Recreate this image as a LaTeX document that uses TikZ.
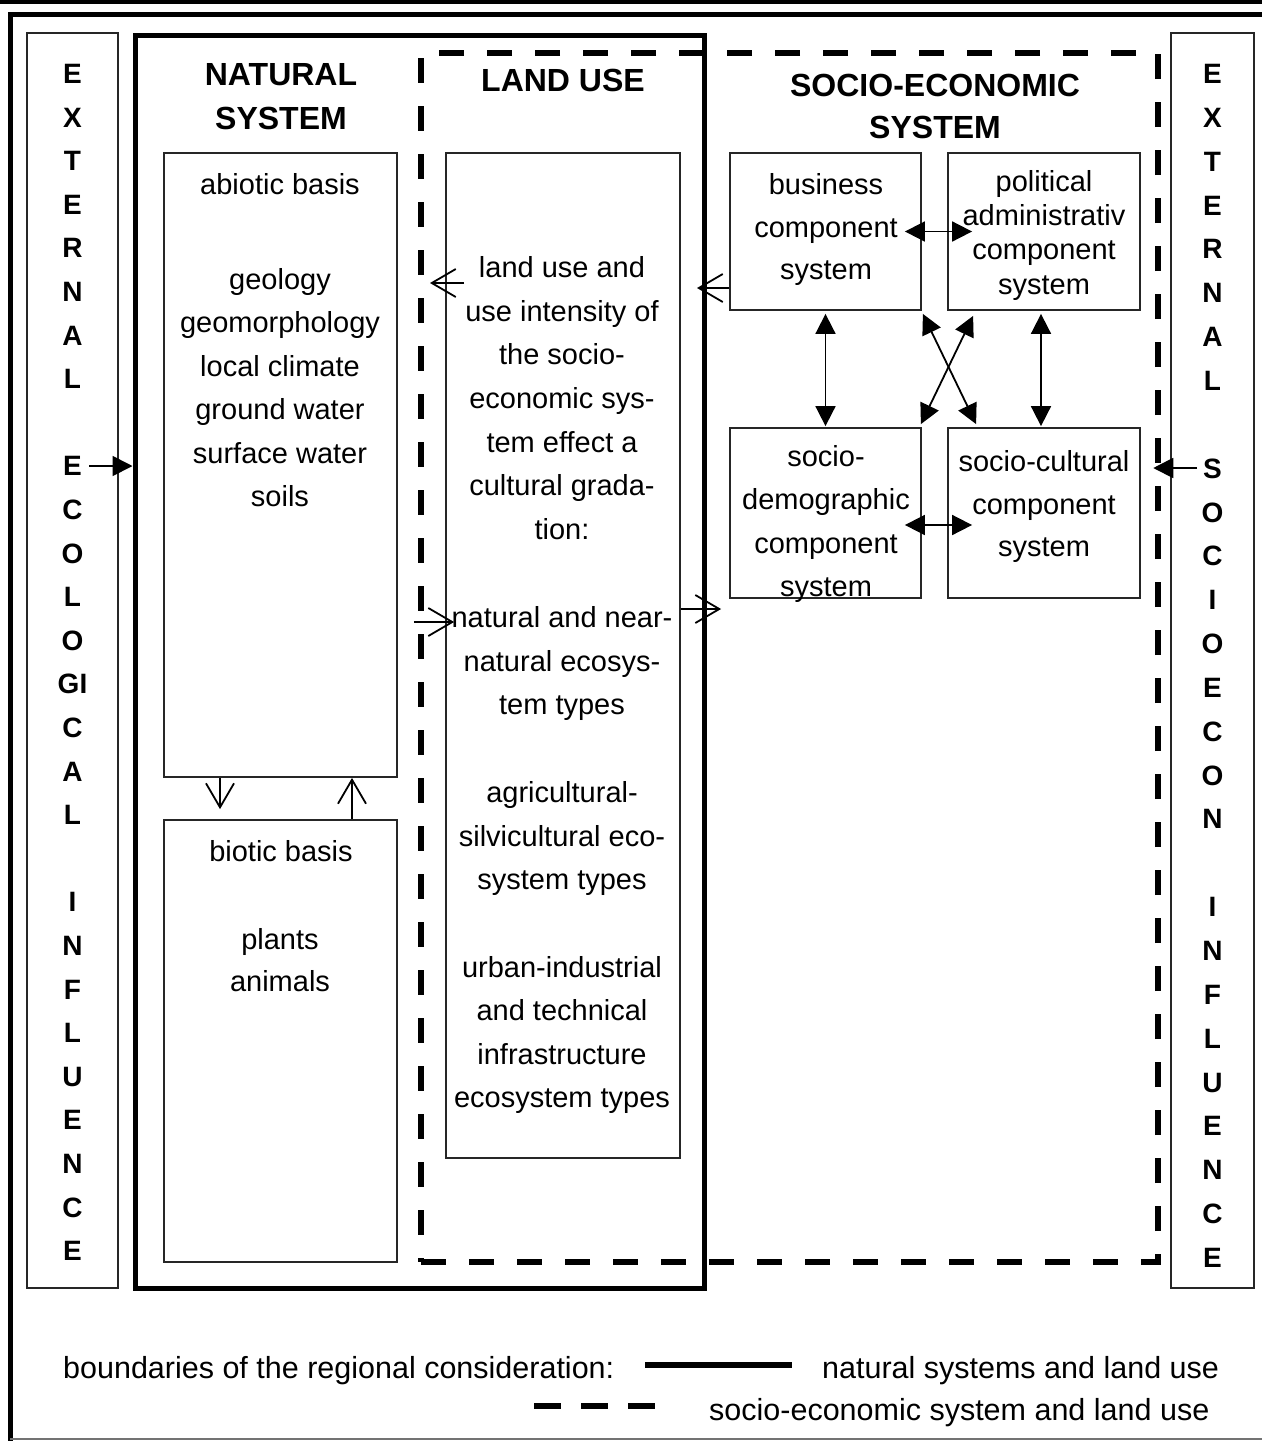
\documentclass[tikz,border=0pt]{standalone}
\usepackage{fontspec}
\setmainfont{Liberation Sans}
\usetikzlibrary{arrows.meta,calc}
\newcommand\mystrut{\rule[-7pt]{0pt}{35pt}}
\begin{document}
\begin{tikzpicture}[x=1pt,y=-1pt,
  box/.style={draw=black!85, line width=1.8pt, inner sep=0pt},
  txt/.style={inner sep=0pt, align=center, font=\fontsize{29}{43.5}\selectfont},
  col/.style={inner sep=0pt, align=center},
  ttl/.style={inner sep=0pt, align=center, font=\fontsize{32}{44}\selectfont\bfseries},
  legend/.style={inner sep=0pt, font=\fontsize{30.5}{36}\selectfont},
  openarr/.style={line width=1.8pt, -{Straight Barb[length=24pt,width=28pt]}},
  dblarr/.style={line width=1.8pt, {Triangle[length=20pt,width=20pt]}-{Triangle[length=20pt,width=20pt]}},
  fillarr/.style={line width=1.8pt, -{Triangle[length=20pt,width=20pt]}}
]
\useasboundingbox (0,0) rectangle (1262,1441);
\fill[white] (0,0) rectangle (1262,1441);
% outer frame
\fill[black] (0,0) rectangle (1262,3.5);
\draw[line width=4.5pt] (10.5,1441) -- (10.5,14.5) -- (1262,14.5);
\draw[line width=2pt, black!55] (10,1439) -- (1262,1439);

% external boxes
\node[box, minimum width=91pt, minimum height=1255pt] (exteco) at (72.5,660.5) {};
\node[box, minimum width=83pt, minimum height=1255pt] (extsoc) at (1212.5,660.5) {};

% big boundaries
\node[draw, line width=6.5pt, dash pattern=on 25pt off 23pt, inner sep=0pt,
      minimum width=737pt, minimum height=1209pt] (dsh) at (789.5,657.5) {};
\node[draw, line width=5pt, inner sep=0pt, minimum width=569pt, minimum height=1253pt] (nat) at (419.5,661.5) {};

% inner boxes
\node[box, minimum width=233pt, minimum height=624pt] (abio) at (280.5,465) {};
\node[box, minimum width=233pt, minimum height=442pt] (bio) at (280.5,1041) {};
\node[box, minimum width=234pt, minimum height=1005pt] (lu) at (563,655.5) {};
\node[box, minimum width=191pt, minimum height=157pt] (bus) at (825.5,231.5) {};
\node[box, minimum width=192pt, minimum height=157pt] (pol) at (1044,231.5) {};
\node[box, minimum width=191pt, minimum height=170pt] (dem) at (825.5,513) {};
\node[box, minimum width=192pt, minimum height=170pt] (cul) at (1044,513) {};

% column texts
\node[col, font=\fontsize{28}{43.6}\selectfont\bfseries] (colL) at (72.5,661.5)
 {\mystrut E\\X\\T\\E\\R\\N\\A\\L\\~\\E\\C\\O\\L\\O\\GI\\C\\A\\L\\~\\I\\N\\F\\L\\U\\E\\N\\C\\E\mystrut};
\node[col, font=\fontsize{28}{43.85}\selectfont\bfseries] (colR) at (1212.5,665)
 {\mystrut E\\X\\T\\E\\R\\N\\A\\L\\~\\S\\O\\C\\I\\O\\E\\C\\O\\N\\~\\I\\N\\F\\L\\U\\E\\N\\C\\E\mystrut};

% titles
\node[ttl] (tnat) at (281,97) {\mystrut NATURAL\\SYSTEM\mystrut};
\node[ttl] (tlu) at (563,81) {\mystrut LAND USE};
\node[ttl, font=\fontsize{32}{42}\selectfont\bfseries] (tsoc) at (935,107) {\mystrut SOCIO-ECONOMIC\\SYSTEM\mystrut};

% natural system texts
\node[txt] (tab1) at (280,184) {\mystrut abiotic basis};
\node[txt, font=\fontsize{29}{43.4}\selectfont] (tab2) at (280,387.5)
 {\mystrut geology\\geomorphology\\local climate\\ground water\\surface water\\soils\mystrut};
\node[txt] (tbi1) at (281,851) {\mystrut biotic basis};
\node[txt, font=\fontsize{29}{42}\selectfont] (tbi2) at (280,960) {\mystrut plants\\animals\mystrut};

% land use texts
\node[txt, font=\fontsize{29}{43.7}\selectfont] (tlu1) at (562,398)
 {\mystrut land use and\\use intensity of\\the socio-\\economic sys-\\tem effect a\\cultural grada-\\tion:\mystrut};
\node[txt] (tlu2) at (562,660.5) {\mystrut natural and near-\\natural ecosys-\\tem types\mystrut};
\node[txt] (tlu3) at (562,835.5) {\mystrut agricultural-\\silvicultural eco-\\system types\mystrut};
\node[txt, font=\fontsize{29}{43.3}\selectfont] (tlu4) at (562,1032)
 {\mystrut urban-industrial\\and technical\\infrastructure\\ecosystem types\mystrut};

% socio-economic texts
\node[txt, font=\fontsize{29}{42.5}\selectfont] (tbus) at (826,226.5) {\mystrut business\\component\\system\mystrut};
\node[txt, font=\fontsize{29}{33.7}\selectfont] (tpol) at (1044,232.5) {\mystrut political\\administrativ\\component\\system\mystrut};
\node[txt, font=\fontsize{29}{43.3}\selectfont] (tdem) at (826,521) {\mystrut socio-\\demographic\\component\\system\mystrut};
\node[txt, font=\fontsize{29}{42.5}\selectfont] (tcul) at (1044,503.5) {\mystrut socio-cultural\\component\\system\mystrut};

% external influence arrows
\coordinate (ecoE) at (89,466);
\coordinate (socS) at (1197,468);
\draw[fillarr] (ecoE) -- (nat.west |- ecoE);
\draw[fillarr] (socS) -- ($(dsh.east |- socS)+(-8,0)$);

% open arrows
\coordinate (luin) at (430,283);
\coordinate (busin) at (697,288);
\draw[openarr] ($(lu.west)+(19,-372.5)$) -- (luin);
\draw[openarr] ($(bus.west)+(0,56.5)$) -- (busin);
\draw[openarr] ($(dsh.west)+(-4,-35.5)$) -- ($(lu.west)+(9,-33.5)$);
\draw[openarr] ($(lu.east)+(0,-46.5)$) -- ($(dem.west)+(-8,96)$);
\draw[openarr] ($(abio.south)+(-60.5,0)$) -- ($(bio.north)+(-60.5,-10)$);
\draw[openarr] ($(bio.north)+(71.5,0)$) -- ($(abio.south)+(71.5,0)$);

% double arrows
\draw[dblarr] ($(bus.east)+(-17,0)$) -- ($(pol.west)+(25,0)$);
\draw[dblarr] ($(bus.south)+(0,3)$) -- ($(dem.north)+(0,-1)$);
\draw[dblarr] ($(pol.south)+(-3,3)$) -- ($(cul.north)+(-3,-1)$);
\draw[dblarr] ($(bus.south east)+(1,3)$) -- ($(cul.north west)+(29,-3)$);
\draw[dblarr] ($(pol.south west)+(26,5)$) -- ($(dem.north east)+(-1,-3)$);
\draw[dblarr] ($(dem.east)+(-17,12)$) -- ($(cul.west)+(25,12)$);

% legend
\node[legend, anchor=base west] (lg1) at (63,1378) {boundaries of the regional consideration:};
\node[legend, anchor=base west] (lg2) at (822,1378) {natural systems and land use};
\node[legend, anchor=base west] (lg3) at (709,1420) {socio-economic system and land use};
\coordinate (ls1) at (645,1365);
\coordinate (ls2) at (792,1365);
\draw[line width=6.5pt] (ls1) -- (ls2);
\coordinate (ld1) at (534,1406);
\coordinate (ld2) at (655,1406);
\draw[line width=6.5pt, dash pattern=on 27pt off 20pt] (ld1) -- (ld2);
\end{tikzpicture}
\end{document}
